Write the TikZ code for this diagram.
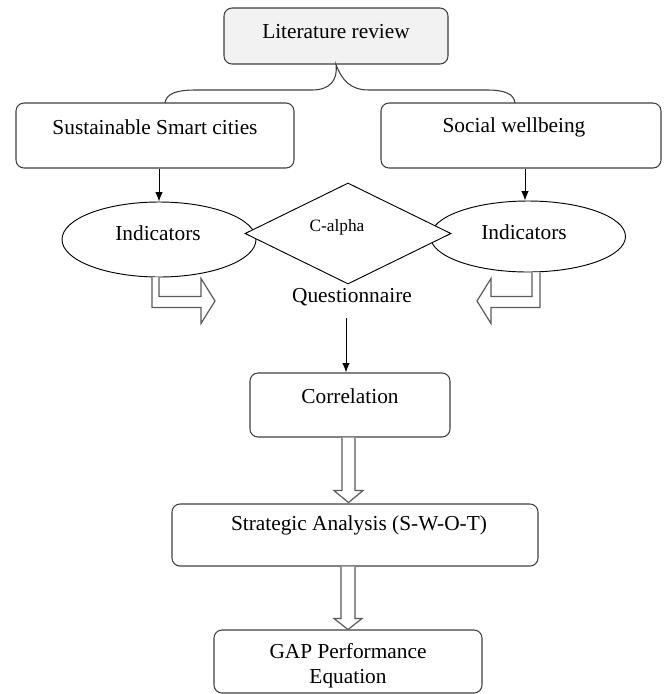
\documentclass[tikz,border=0pt]{standalone}
\usepackage{fontspec}
\setmainfont{Liberation Serif}
\usetikzlibrary{shapes.geometric,arrows.meta}
\definecolor{litgray}{HTML}{F2F2F2}
\definecolor{edgegray}{HTML}{3F3F3F}
\definecolor{hollowgray}{HTML}{5A5A5A}
\tikzset{
  box/.style={draw=edgegray,rounded corners=6pt,inner sep=0pt,line width=0.8pt},
  oval/.style={draw=black,ellipse,inner sep=0pt,line width=0.7pt},
  txt/.style={font=\fontsize{16}{19}\selectfont,inner sep=0pt},
  hollow/.style={draw=hollowgray,line width=0.9pt,line join=miter,fill=white}
}
\begin{document}
\begin{tikzpicture}[x=0.75pt,y=-0.75pt,>={Latex[length=7pt,width=5.5pt]}]
        \useasboundingbox (0,0) rectangle (665,694);

        % the boxes
        \node[box,fill=litgray,minimum width=168pt,minimum height=42pt] (lit) at (336,36) {};
        \node[box,minimum width=208.5pt,minimum height=48.75pt] (ssc) at (155,135.5) {};
        \node[box,minimum width=210pt,minimum height=48.75pt] (sw) at (521,135.5) {};
        \node[box,minimum width=150pt,minimum height=48pt] (corr) at (350,405) {};
        \node[box,minimum width=274.5pt,minimum height=46.5pt] (strat) at (355,535) {};
        \node[box,minimum width=201pt,minimum height=47.25pt] (gap) at (348,661.5) {};

        % the indicators and the diamond
        \node[oval,minimum width=145.5pt,minimum height=56.25pt] (indl) at (159,239.5) {};
        \node[oval,minimum width=146.25pt,minimum height=53.25pt] (indr) at (528,236.5) {};
        \node[draw=black,diamond,fill=white,inner sep=0pt,line width=0.7pt,aspect=2.04,
              minimum width=154.5pt,minimum height=75.75pt] (calpha) at (348,233.5) {};

        % the texts
        \node[txt] (littxt) at (336,32) {Literature review};
        \node[txt] (ssctxt) at (155,127) {Sustainable Smart cities};
        \node[txt] (swtxt) at (514,127) {Social wellbeing};
        \node[txt] (indltxt) at (158,233) {Indicators};
        \node[txt] (indrtxt) at (524,232) {Indicators};
        \node[txt,font=\fontsize{13}{15}\selectfont] (catxt) at (337,227) {C-alpha};
        \node[txt] (quest) at (352,297) {Questionnaire};
        \node[txt] (corrtxt) at (350,396) {Correlation};
        \node[txt] (strattxt) at (359,525) {Strategic Analysis (S-W-O-T)};
        \node[txt,align=center,font=\fontsize{16}{18.75}\selectfont] (gaptxt) at (348,665.5) {GAP Performance\\Equation};

        % the brace under the literature review
        \coordinate (bl) at (165,103);
        \coordinate (br) at (515,103);
        \draw[edgegray,line width=0.8pt] (bl) .. controls (166,94) and (176,90) .. (195,90) -- (312,90)
                .. controls (330,90) and (338,80) .. (lit.south)
                .. controls (342,80) and (350,90) .. (369,90) -- (487,90)
                .. controls (505,90) and (514,94) .. (br);

        % plain arrows
        \draw[->,line width=0.7pt] (indl.north |- ssc.south) -- (indl.north);
        \draw[->,line width=0.7pt] ([xshift=-2.25pt]indr.north |- sw.south) -- ([xshift=-2.25pt]indr.north);
        \draw[->,line width=0.7pt] ([xshift=-3pt,yshift=-9pt]corr.north |- quest.south) -- ([xshift=-3pt]corr.north);

        % hollow arrows
        \draw[hollow] ([xshift=-5.25pt]indl.south) -- ++(0,30) -- ++(49,0) -- ++(0,16) -- ++(14,-22.5)
                -- ++(-14,-22.5) -- ++(0,18) -- ++(-42,0) -- (indl.south);
        \draw[hollow] ([xshift=9pt]indr.south) -- ++(0,35) -- ++(-49,0) -- ++(0,16) -- ++(-14,-22.5)
                -- ++(14,-22.5) -- ++(0,18) -- ++(41,0) -- ([xshift=3pt]indr.south);
        \draw[hollow] ([xshift=-6pt]corr.south) -- ++(0,53) -- ++(-8,0) -- ++(14.5,12) -- ++(14.5,-12)
                -- ++(-8,0) -- ([xshift=3.75pt]corr.south);
        \draw[hollow] ([xshift=-10.5pt]strat.south) -- ++(0,52) -- ++(-7,0) -- ++(14,11) -- ++(14,-11)
                -- ++(-7,0) -- ([xshift=0pt]strat.south);
\end{tikzpicture}
\end{document}
